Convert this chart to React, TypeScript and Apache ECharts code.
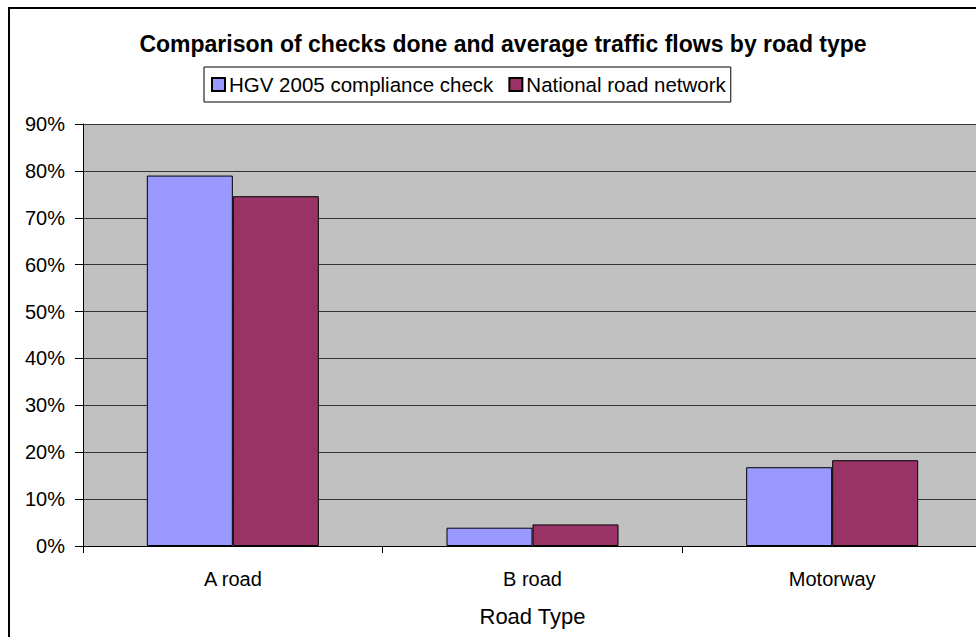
import React, { useEffect, useRef } from "react";
import * as echarts from "echarts";

const categories = ["A road", "B road", "Motorway"];
const hgvCheck = [79, 3.9, 16.8];
const nationalNetwork = [74.6, 4.6, 18.3];
const seriesNames = ["HGV 2005 compliance check", "National road network"];
const titleText = "Comparison of checks done and average traffic flows by road type";
const xAxisName = "Road Type";

const FONT = "'Liberation Sans', Arial, sans-serif";

export default function App() {
  const ref = useRef<HTMLDivElement>(null);
  useEffect(() => {
    if (!ref.current) return;
    const chart = echarts.init(ref.current, undefined, { renderer: "svg" });
    chart.setOption({
      animation: false,
      backgroundColor: "#ffffff",
      title: {
        text: titleText,
        left: 498,
        textAlign: "center",
        top: 27,
        textStyle: { fontFamily: FONT, fontSize: 23, fontWeight: "bold", color: "#000" },
      },
      legend: {
        left: 204,
        top: 67,
        orient: "horizontal",
        padding: [7, 5, 7, 7],
        itemWidth: 13,
        itemHeight: 13,
        itemGap: 15,
        borderColor: "#000",
        borderWidth: 1,
        icon: "rect",
        textStyle: { fontFamily: FONT, fontSize: 20.5, color: "#000", padding: [0, 0, 0, -1] },
        data: seriesNames,
      },
      graphic: [
        {
          type: "rect",
          shape: { x: 9, y: 8, width: 2000, height: 2000 },
          style: { fill: "none", stroke: "#000", lineWidth: 2 },
          z: 100,
        },
      ],
      grid: {
        left: 83,
        top: 124,
        right: 18,
        bottom: 91,
        show: true,
        backgroundColor: "#C0C0C0",
        borderWidth: 0,
      },
      xAxis: {
        type: "category",
        data: categories,
        name: xAxisName,
        nameLocation: "middle",
        nameGap: 59,
        nameTextStyle: { fontFamily: FONT, fontSize: 22, color: "#000" },
        axisLine: { lineStyle: { color: "#000", width: 1 } },
        axisTick: { show: true, length: 7, inside: false, alignWithLabel: false, lineStyle: { color: "#000" } },
        axisLabel: { fontFamily: FONT, fontSize: 20, color: "#000", margin: 23 },
      },
      yAxis: {
        type: "value",
        min: 0,
        max: 90,
        interval: 10,
        axisLine: { show: true, lineStyle: { color: "#000", width: 1 } },
        axisTick: { show: true, length: 8, lineStyle: { color: "#000" } },
        axisLabel: { fontFamily: FONT, fontSize: 20, color: "#000", margin: 18, formatter: "{value}%" },
        splitLine: { show: true, lineStyle: { color: "#333", width: 1 } },
      },
      series: [
        {
          name: seriesNames[0],
          type: "bar",
          data: hgvCheck,
          barWidth: 86,
          barGap: "0%",
          itemStyle: { color: "#9999FF", borderColor: "#000", borderWidth: 1 },
        },
        {
          name: seriesNames[1],
          type: "bar",
          data: nationalNetwork,
          barWidth: 86,
          barGap: "0%",
          itemStyle: { color: "#993366", borderColor: "#000", borderWidth: 1 },
        },
      ],
    });
    return () => chart.dispose();
  }, []);
  return (
    <div
      ref={ref}
      style={{ position: "fixed", left: 0, top: 0, width: 1000, height: 637 }}
    />
  );
}
